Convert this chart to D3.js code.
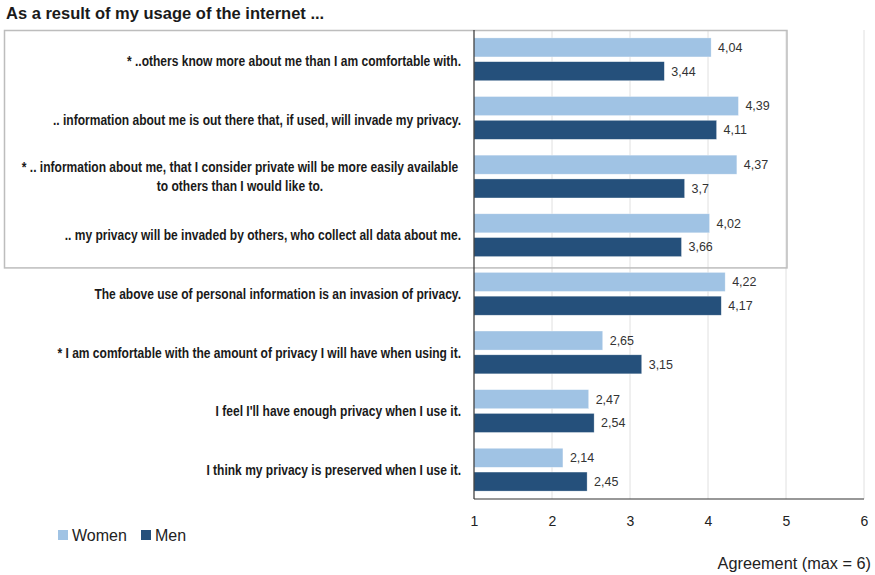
<!DOCTYPE html>
<html>
<head>
<meta charset="utf-8">
<script src="https://cdn.jsdelivr.net/npm/d3@7"></script>
<style>
  body { margin: 0; background: #fff; }
  svg { display: block; font-family: "Liberation Sans", Arial, sans-serif; }
</style>
</head>
<body>
<svg width="875" height="575"></svg>
<script>
var statements = [
  ["* ..others know more about me than I am comfortable with."],
  [".. information about me is out there that, if used, will invade my privacy."],
  ["* .. information about me, that I consider private will be more easily available", "to others than I would like to."],
  [".. my privacy  will be invaded by others, who collect all data about me."],
  ["The above use of personal information is an invasion of privacy."],
  ["* I am comfortable with the amount of privacy I will have  when using it."],
  ["I feel I'll have enough privacy  when I use it."],
  ["I think my privacy is preserved  when I use it."]
];
var women = [4.04, 4.39, 4.37, 4.02, 4.22, 2.65, 2.47, 2.14];
var men = [3.44, 4.11, 3.7, 3.66, 4.17, 3.15, 2.54, 2.45];
var series = ["Women", "Men"];
var xTicks = [1, 2, 3, 4, 5, 6];

var colors = { Women: "#a0c3e4", Men: "#25507b" };

var svg = d3.select("svg"),
  plotLeft = 474,
  plotRight = 864,
  plotTop = 30,
  plotBottom = 499;

var idx = d3.range(statements.length);

var xScale = d3.scaleLinear().domain([1, 6]).range([plotLeft, plotRight]);
var yScale = d3.scaleBand().domain(idx).range([plotTop, plotBottom]).paddingInner(0.27).paddingOuter(0.135);
var ySub = d3.scaleBand().domain(series).range([0, yScale.bandwidth()]).paddingInner(0.2);

// Title
svg.append("text")
  .attr("x", 6)
  .attr("y", 19)
  .style("font-size", "16.5px")
  .style("font-weight", "bold")
  .style("fill", "#1a1a1a")
  .text("As a result of my usage of the internet ...");

// grid
svg.append("g")
  .selectAll("line")
  .data(xTicks.slice(1))
  .enter()
  .append("line")
  .attr("x1", function (d) { return xScale(d); })
  .attr("x2", function (d) { return xScale(d); })
  .attr("y1", plotTop)
  .attr("y2", plotBottom)
  .style("stroke", "#e0e0e0")
  .style("stroke-width", 1);

// highlight box for the first four statements
svg.append("rect")
  .attr("x", 4.5)
  .attr("y", plotTop + 0.5)
  .attr("width", xScale(5) + 1 - 4.5)
  .attr("height", yScale(4) - plotTop - 5)
  .style("fill", "none")
  .style("stroke", "#bdbdbd")
  .style("stroke-width", 1.5);

// bars
var rows = idx.map(function (i) {
  return [{ s: "Women", v: women[i], i: i }, { s: "Men", v: men[i], i: i }];
});

var groups = svg.append("g")
  .selectAll("g")
  .data(rows)
  .enter()
  .append("g")
  .attr("transform", function (d, i) { return "translate(0," + yScale(i) + ")"; });

groups.selectAll("rect")
  .data(function (d) { return d; })
  .enter()
  .append("rect")
  .attr("x", xScale(1))
  .attr("y", function (d) { return ySub(d.s); })
  .attr("width", function (d) { return xScale(d.v) - xScale(1); })
  .attr("height", ySub.bandwidth())
  .style("fill", function (d) { return colors[d.s]; })
  .style("stroke", "#ffffff")
  .style("stroke-opacity", 0.5)
  .style("stroke-width", 0.6);

groups.selectAll("text.val")
  .data(function (d) { return d; })
  .enter()
  .append("text")
  .attr("class", "val")
  .attr("x", function (d) { return xScale(d.v) + 7; })
  .attr("y", function (d) { return ySub(d.s) + ySub.bandwidth() / 2; })
  .attr("dy", "0.35em")
  .style("font-size", "12.5px")
  .style("fill", "#333")
  .text(function (d) { return String(d.v).replace(".", ","); });

// category labels (condensed bold)
var labels = svg.append("g")
  .selectAll("text")
  .data(statements)
  .enter()
  .append("text")
  .style("font-weight", "bold")
  .style("font-size", "14.5px")
  .style("fill", "#1a1a1a")
  .attr("text-anchor", function (d) { return d.length > 1 ? "middle" : "end"; })
  .attr("transform", function (d, i) {
    var cy = yScale(i) + yScale.bandwidth() / 2 + (i < 2 ? 2 : 0);
    return "translate(" + (d.length > 1 ? 240 : 461) + "," + cy + ") scale(0.83,1)";
  });

labels.each(function (d) {
  var t = d3.select(this);
  var n = d.length;
  d.forEach(function (line, k) {
    t.append("tspan")
      .attr("x", 0)
      .attr("y", (k - (n - 1) / 2) * 19)
      .attr("dy", "0.35em")
      .text(line);
  });
});

// axes lines
svg.append("line")
  .attr("x1", xScale(1)).attr("x2", xScale(1))
  .attr("y1", plotTop).attr("y2", plotBottom)
  .style("stroke", "#333").style("stroke-width", 1.2);

svg.append("line")
  .attr("x1", xScale(1)).attr("x2", xScale(6))
  .attr("y1", plotBottom).attr("y2", plotBottom)
  .style("stroke", "#333").style("stroke-width", 1.2);

var xAxis = svg.append("g")
  .attr("transform", "translate(0," + plotBottom + ")")
  .call(d3.axisBottom(xScale).tickValues(xTicks).tickSize(0).tickPadding(17).tickFormat(d3.format("d")));
xAxis.select(".domain").remove();
xAxis.selectAll("text")
  .style("font-family", "'Liberation Sans', Arial, sans-serif")
  .style("font-size", "14px")
  .style("fill", "#222");

// x title
svg.append("text")
  .attr("x", 871)
  .attr("y", 569)
  .attr("text-anchor", "end")
  .style("font-size", "16.3px")
  .style("fill", "#222")
  .text("Agreement (max = 6)");

// legend
var legend = svg.append("g").attr("transform", "translate(58,530)");
var lx = [0, 83];
series.forEach(function (s, i) {
  var item = legend.append("g").attr("transform", "translate(" + lx[i] + ",0)");
  item.append("rect")
    .attr("width", 10)
    .attr("height", 10)
    .style("fill", colors[s]);
  item.append("text")
    .attr("x", 14)
    .attr("y", 5)
    .attr("dy", "0.35em")
    .style("font-size", "16px")
    .style("fill", "#222")
    .text(s);
});
</script>
</body>
</html>
